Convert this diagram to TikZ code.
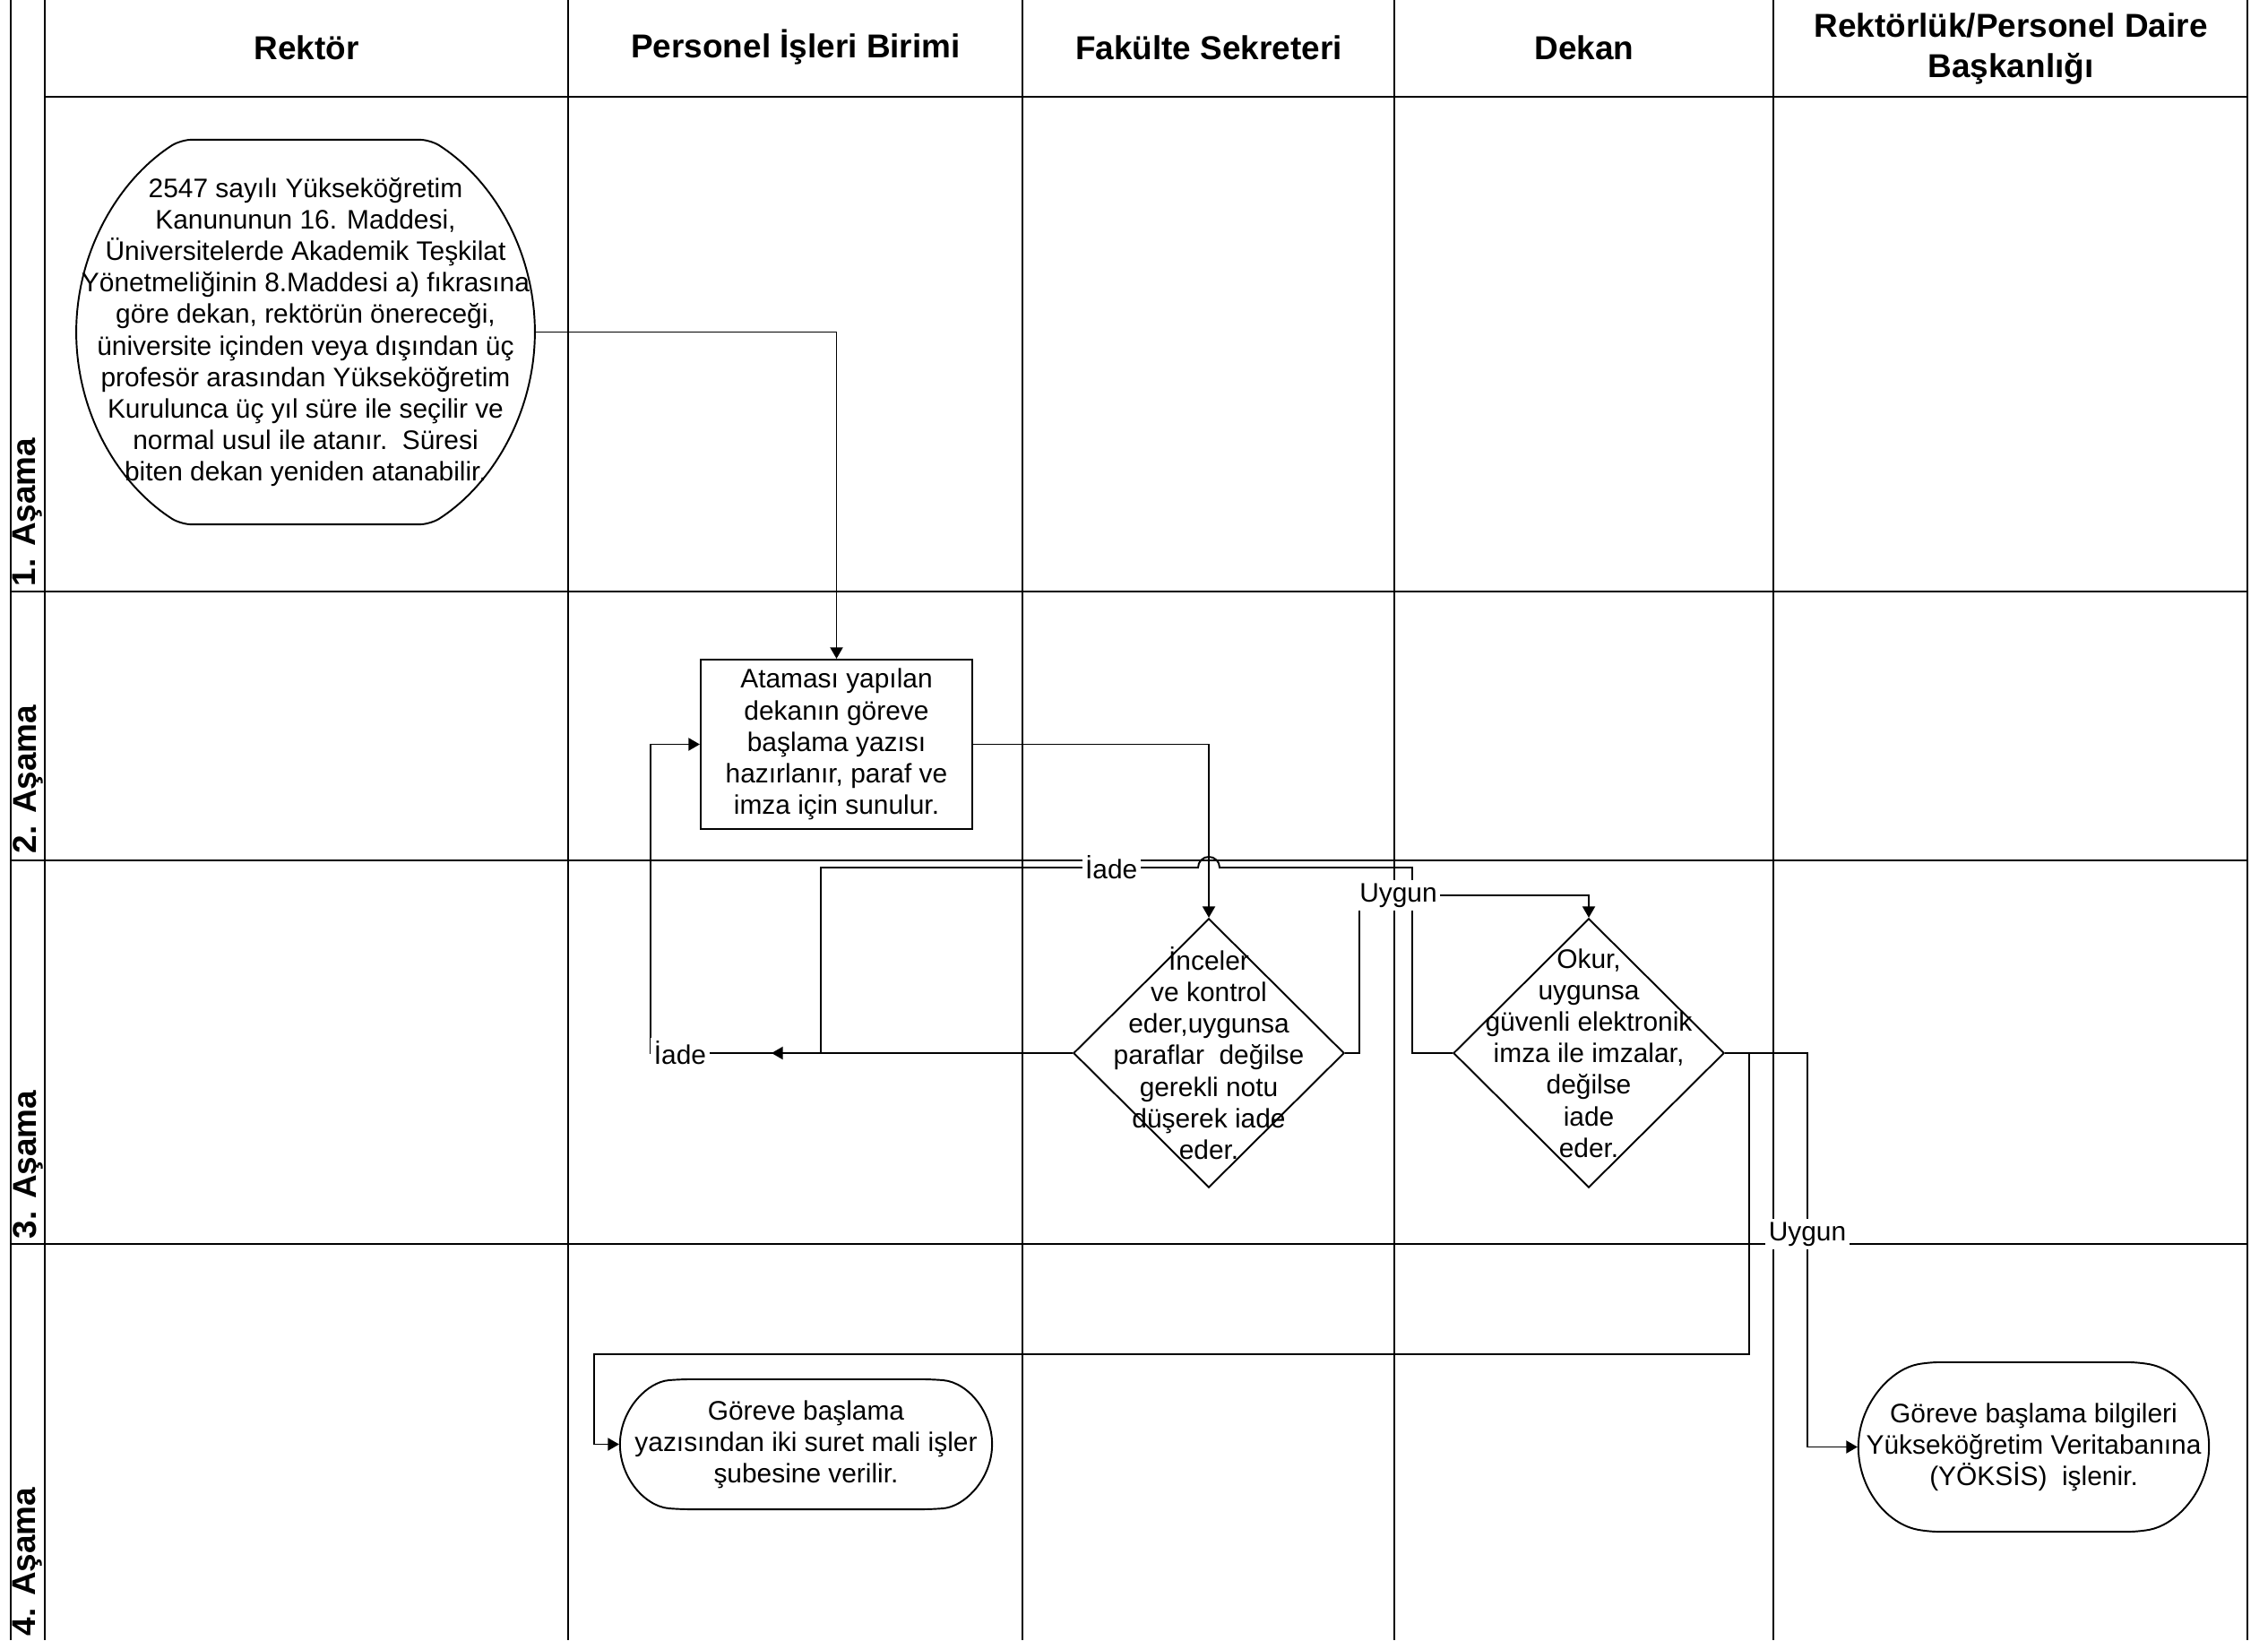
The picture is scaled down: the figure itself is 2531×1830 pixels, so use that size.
\documentclass[tikz,border=0pt]{standalone}
\usepackage{fontspec}
\setmainfont{Liberation Sans}
\usetikzlibrary{shapes.geometric,shapes.misc,arrows.meta}

\begin{document}
\begin{tikzpicture}[x = 0.01cm, y = -0.01cm,
        govde/.style = {font=\fontsize{8.5}{10}\selectfont, align=center},
        baslik/.style = {font=\bfseries\fontsize{10.5}{12.8}\selectfont, align=center},
        asama/.style = {font=\bfseries\fontsize{10.5}{12}\selectfont, rotate=90, anchor=west, inner sep=0pt},
        kutu/.style = {govde, draw, line width=0.55pt, minimum width=3.03cm, minimum height=1.89cm, inner sep=0pt},
        karar/.style = {draw, line width=0.55pt, diamond, minimum width=3.02cm, minimum height=3cm, inner sep=0pt},
        uc/.style = {draw, line width=0.55pt, rounded rectangle, rounded corners=0.12cm, inner sep=0pt},
        etiket/.style = {govde, fill=white, inner sep=1pt},
        akis/.style = {line width=0.55pt, -{Triangle[length=3.6pt, width=4pt]}},
        cizgi/.style = {line width=0.6pt}]
    \useasboundingbox (0,0) rectangle (2531,1830);
    \clip (0,0) rectangle (2531,1830);

    \draw[cizgi] (12,0) -- (12,1830);
    \draw[cizgi, line width=0.8pt] (50,0) -- (50,1830);
    \foreach \x in {634,1141,1556,1979,2508}
        \draw[cizgi] (\x,0) -- (\x,1830);
    \draw[cizgi] (50,108) -- (2508,108);
    \foreach \y in {660,960,1388}
        \draw[cizgi, line width=0.8pt] (12,\y) -- (2508,\y);

    \node[baslik] (rektorh) at (342,53) {Rektör};
    \node[baslik] (personelh) at (888,53) {Personel İşleri Birimi};
    \node[baslik] (fakulteh) at (1349,53) {Fakülte Sekreteri};
    \node[baslik] (dekanh) at (1768,53) {Dekan};
    \node[baslik] (daireh) at (2244,55) {Rektörlük/Personel Daire\\Başkanlığı};

    \node[asama] (a1) at (31,655) {1. Aşama};
    \node[asama] (a2) at (31,953) {2. Aşama};
    \node[asama] (a3) at (31,1383) {3. Aşama};
    \node[asama] (a4) at (31,1826) {4. Aşama};

    \node[uc, rounded rectangle arc length=114, minimum width=5.08cm, minimum height=4.29cm,
        label={[govde]center:{2547 sayılı Yükseköğretim\\Kanununun 16. Maddesi,\\Üniversitelerde Akademik Teşkilat\\Yönetmeliğinin 8.Maddesi a) fıkrasına\\göre dekan, rektörün önereceği,\\üniversite içinden veya dışından üç\\profesör arasından Yükseköğretim\\Kurulunca üç yıl süre ile seçilir ve\\normal usul ile atanır.~~Süresi\\biten dekan yeniden atanabilir.}}]
        (rektor) at (341,370.5) {};
    \node[kutu] (ata) at (933.5,830.5) {Ataması yapılan\\dekanın göreve\\başlama yazısı\\hazırlanır, paraf ve\\imza için sunulur.};
    \node[karar, label={[govde]center:{İnceler\\ve kontrol\\eder,uygunsa\\paraflar~~değilse\\gerekli notu\\düşerek iade\\eder.}}]
        (incele) at (1349,1175) {};
    \node[karar, label={[govde]center:{Okur,\\uygunsa\\güvenli elektronik\\imza ile imzalar,\\değilse\\iade\\eder.}}]
        (imza) at (1773,1175) {};
    \node[uc, rounded rectangle arc length=170, minimum width=4.15cm, minimum height=1.45cm,
        label={[govde]center:{Göreve başlama\\yazısından iki suret mali işler\\şubesine verilir.}}]
        (mali) at (899.5,1611.5) {};
    \node[uc, rounded rectangle arc length=158, minimum width=3.91cm, minimum height=1.89cm,
        label={[govde]center:{Göreve başlama bilgileri\\Yükseköğretim Veritabanına\\(YÖKSİS)~~işlenir.}}]
        (yoksis) at (2269.5,1614.5) {};

    \draw[akis] (rektor.east) -| (ata.north);
    \draw[akis] (ata.east) -| (incele.north);
    \draw[akis] (incele.west) -- node[etiket, pos=0.93] {İade} (726,1175) |- (ata.west);
    \draw[akis] (imza.west) -- (1576,1175) -- (1576,968) -- (1361,968)
        arc[start angle=0, end angle=180, radius=0.12cm] -- node[etiket, pos=0.23] {İade} (916,968)
        -- (916,1175) -- (861,1175);
    \draw[akis] (incele.east) -- (1517,1175) -- (1517,999) -- node[etiket, pos=0.17] {Uygun} (1773,999) -- (imza.north);
    \draw[akis] (imza.east) -- (2017,1175) -- node[etiket, pos=0.46] {Uygun} (2017,1614.5) -- (yoksis.west);
    \draw[akis] (imza.east) -- (1952,1175) -- (1952,1511) -- (663,1511) |- (mali.west);
\end{tikzpicture}
\end{document}
